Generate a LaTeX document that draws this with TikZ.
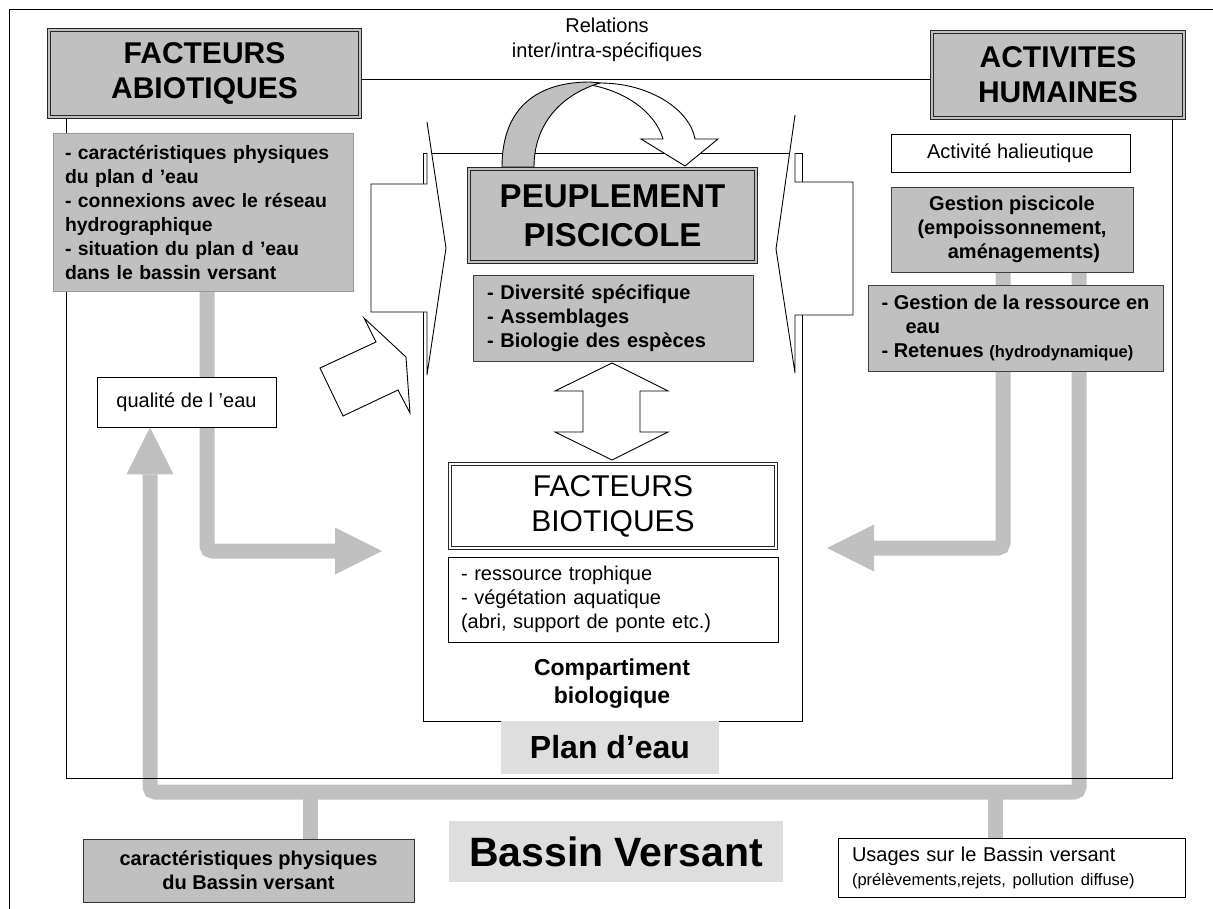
\documentclass[tikz,border=0pt]{standalone}
\usepackage{fontspec}
\setmainfont{Liberation Sans}
\usetikzlibrary{arrows.meta}
\pgfdeclarelayer{background}
\pgfsetlayers{background,main}
\definecolor{boxgray}{HTML}{C0C0C0}
\definecolor{labelgray}{HTML}{DEDEDE}

\begin{document}
\begin{tikzpicture}[x=1pt, y=-1pt,
    titlebox/.style={draw=black!85, line width=1.1pt, double=boxgray, double distance=1.3pt,
        fill=boxgray, inner sep=0pt, align=center, font=\fontsize{30}{35}\selectfont\bfseries},
    graybox/.style={draw=black!75, line width=0.9pt, fill=boxgray, inner sep=0pt,
        font=\fontsize{20}{24}\selectfont\bfseries},
    whitebox/.style={draw=black, line width=0.9pt, fill=white, inner sep=0pt,
        font=\fontsize{20}{24}\selectfont},
    labelbox/.style={fill=labelgray, inner sep=0pt, font=\bfseries},
    flow/.style={draw=boxgray, line width=15pt, rounded corners=5pt},
    flowtip/.style={flow, -{Triangle[length=47pt, width=47pt, line width=0pt]}},
    hollow/.style={draw=black, line width=0.9pt, line join=miter}]

\useasboundingbox (0,0) rectangle (1213,909);

%% === CADRES: bassin versant, plan d'eau, compartiment ===
\draw[line width=0.9pt] (9,909) -- (9,9) -- (1213,9);
\node[draw, line width=0.9pt, minimum width=1106pt, minimum height=699pt] (plan) at (619,428.5) {};
\node[draw, line width=0.9pt, minimum width=379pt, minimum height=568pt] (compart) at (612.5,437) {};

\node[align=center, font=\fontsize{20}{25}\selectfont] (relations) at (607,40)
    {Relations\\inter/intra-spécifiques};

%% === FLECHES CREUSES ===
%% fleche gauche vers le compartiment
\fill[white] (371,184) -- (427,184) -- (427,122) -- (446,248) -- (427,375) -- (427,312) -- (371,312) -- cycle;
\draw[hollow] (427,153) -- (427,184) -- (371,184) -- (371,312) -- (427,312) -- (427,375) -- (446,248) -- (427,122);
%% fleche droite vers le compartiment
\fill[white] (853,182) -- (795,182) -- (795,115) -- (776,249) -- (795,373) -- (795,315) -- (853,315) -- cycle;
\draw[hollow] (795,153) -- (795,182) -- (853,182) -- (853,315) -- (795,315) -- (795,373) -- (776,249) -- (795,115);
%% fleche oblique
\draw[hollow, fill=white] (320,368) -- (343,416) -- (398,390) -- (410,413) -- (406,357) -- (364,318) -- (376,342) -- cycle;
%% double fleche peuplement / facteurs biotiques
\draw[hollow, fill=white] (612,363) -- (668,391) -- (640,391) -- (640,432) -- (668,432) -- (612,460)
    -- (555,432) -- (583,432) -- (583,391) -- (555,391) -- cycle;

%% fleche courbe (relations inter/intra)
\draw[hollow, fill=white] (585,84) .. controls (625,90) and (655,112) .. (663,139) -- (641,139) -- (685,166)
    -- (718,139) -- (695,139) .. controls (690,110) and (650,83) .. (600,83) -- cycle;
\draw[hollow, fill=boxgray] (502,167) .. controls (502,105) and (540,82) .. (590,82) -- (600,83)
    .. controls (560,95) and (534,125) .. (534,167) -- cycle;

%% === FACTEURS ABIOTIQUES ===
\node[titlebox, minimum width=311pt, minimum height=87pt] (abiot) at (204.5,73.5) {FACTEURS\\ABIOTIQUES};
\node[graybox, draw=black!40, font=\fontsize{19.4}{24}\selectfont\bfseries, minimum width=300pt,
    minimum height=158pt, text width=276pt, inner xsep=12pt, align=left] (abiolist) at (203,212)
    {\noindent- caractéristiques physiques\\du plan d ’eau\\- connexions avec le réseau\\hydrographique\\- situation du plan d ’eau\\dans le bassin versant};
\node[whitebox, minimum width=179pt, minimum height=50pt] (qualite) at (186.5,402) {qualité de l ’eau};

%% === ACTIVITES HUMAINES ===
\node[titlebox, minimum width=252pt, minimum height=86pt] (activ) at (1058,75) {ACTIVITES\\HUMAINES};
\node[whitebox, minimum width=239pt, minimum height=38pt] (halieu) at (1010.5,153) {Activité halieutique};
\node[graybox, minimum width=242pt, minimum height=85pt, align=center] (gestpisc) at (1012,229.5)
    {Gestion piscicole\\(empoissonnement,\\\hspace*{24pt}aménagements)};
\node[graybox, minimum width=295pt, minimum height=86pt, align=left] (gestres) at (1015.5,328)
    {- Gestion de la ressource en\\\hspace*{24pt}eau\\- Retenues {\fontsize{16.5}{24}\selectfont(hydrodynamique)}};

%% === COMPARTIMENT BIOLOGIQUE ===
\node[titlebox, font=\fontsize{33}{39}\selectfont\bfseries, minimum width=287pt, minimum height=93pt]
    (peuple) at (612.5,215.5) {PEUPLEMENT\\PISCICOLE};
\node[graybox, minimum width=280pt, minimum height=86pt, text width=252pt, inner xsep=14pt,
    align=left] (divers) at (613,318)
    {- Diversité spécifique\\- Assemblages\\- Biologie des espèces};
\node[titlebox, double=white, fill=white, font=\fontsize{30}{35}\selectfont, minimum width=326pt,
    minimum height=84pt] (biot) at (613,506) {FACTEURS\\BIOTIQUES};
\node[whitebox, minimum width=330pt, minimum height=85pt, text width=304pt, inner xsep=13pt,
    align=left] (ressource) at (613,599.5)
    {- ressource trophique\\- végétation aquatique\\(abri, support de ponte etc.)};
\node[align=center, font=\fontsize{23}{28}\selectfont\bfseries] (comptxt) at (612,684)
    {Compartiment\\biologique};
\node[labelbox, font=\fontsize{32}{38}\selectfont\bfseries, minimum width=218pt, minimum height=53pt]
    (plandeau) at (610,747.5) {Plan d’eau};

%% === BASSIN VERSANT ===
\node[labelbox, font=\fontsize{41}{48}\selectfont\bfseries, minimum width=334pt, minimum height=61pt]
    (bassin) at (616,851.5) {Bassin Versant};
\node[graybox, draw=black!80, minimum width=331pt, minimum height=63pt, align=center]
    (caracbv) at (248.5,870.5) {caractéristiques physiques\\du Bassin versant};
\node[whitebox, minimum width=347pt, minimum height=59pt, text width=319pt, inner xsep=14pt,
    align=left] (usages) at (1011.5,867.5)
    {\fontsize{20}{19}\selectfont Usages sur le Bassin versant\\
     \fontsize{16.5}{19}\selectfont(prélèvements,rejets, pollution diffuse)};

%% === FLUX GRIS ===
\coordinate (abiotip) at (382,551);
\coordinate (humtip) at (827,548);
\coordinate (busL) at (150,792);
\coordinate (dropL) at (310,792);
\coordinate (dropR) at (995,792);

\begin{pgfonlayer}{background}
\draw[flowtip] ([xshift=4pt]abiolist.south) |- (abiotip);
\draw[flowtip] ([xshift=-9pt]gestpisc.south) |- (humtip);
\draw[flowtip] ([xshift=67pt]gestpisc.south) |- (busL) -- ([xshift=-36.5pt]qualite.south);
\draw[flow] (dropL) -- (caracbv.north -| dropL);
\draw[flow] (dropR) -- (usages.north -| dropR);
\end{pgfonlayer}

\end{tikzpicture}
\end{document}
